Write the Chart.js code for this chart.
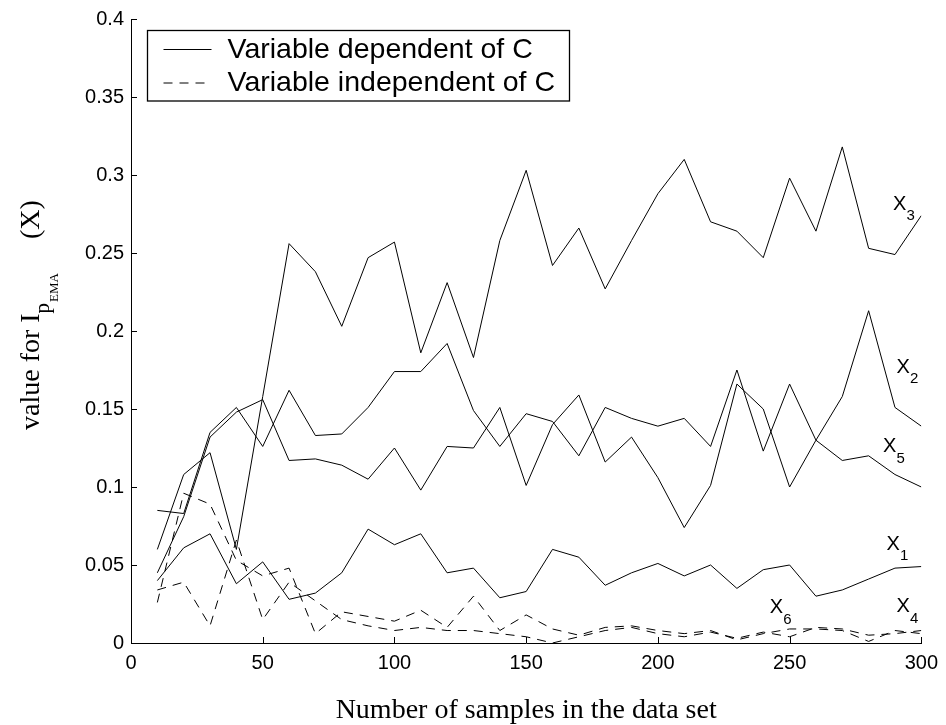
<!DOCTYPE html>
<html>

<head>
    <meta charset="utf-8" />
    <title>I_pEMA values vs number of samples</title>
    <script src="https://cdn.jsdelivr.net/npm/chart.js"></script>
    <style>
        body { margin: 0; background: #fff; }
        #wrap { width: 946px; height: 725px; }
    </style>
</head>

<body>
    <div id="wrap"><canvas id="myChart" width="946" height="725"></canvas></div>

    <script type="text/javascript">

        // number of samples (x values)
        const samples = [10, 20, 30, 40, 50, 60, 70, 80, 90, 100, 110, 120, 130, 140, 150,
            160, 170, 180, 190, 200, 210, 220, 230, 240, 250, 260, 270, 280, 290, 300];

        // variables dependent of C (solid)
        const x1 = [0.040, 0.061, 0.070, 0.038, 0.052, 0.028, 0.032, 0.045, 0.073, 0.063, 0.070, 0.045, 0.048, 0.029, 0.033,
            0.060, 0.055, 0.037, 0.045, 0.051, 0.043, 0.050, 0.035, 0.047, 0.050, 0.030, 0.034, 0.041, 0.048, 0.049];
        const x2 = [0.045, 0.081, 0.132, 0.148, 0.156, 0.117, 0.118, 0.114, 0.105, 0.125, 0.098, 0.126, 0.125, 0.151, 0.101,
            0.140, 0.159, 0.116, 0.132, 0.106, 0.074, 0.101, 0.166, 0.150, 0.100, 0.130, 0.158, 0.213, 0.151, 0.139];
        const x3 = [0.060, 0.108, 0.122, 0.060, 0.158, 0.256, 0.238, 0.203, 0.247, 0.257, 0.186, 0.231, 0.183, 0.258, 0.303,
            0.242, 0.266, 0.227, 0.258, 0.288, 0.310, 0.270, 0.264, 0.247, 0.298, 0.264, 0.318, 0.253, 0.249, 0.274];
        const x5 = [0.085, 0.083, 0.135, 0.151, 0.126, 0.162, 0.133, 0.134, 0.151, 0.174, 0.174, 0.192, 0.149, 0.126, 0.147,
            0.142, 0.120, 0.151, 0.144, 0.139, 0.144, 0.126, 0.175, 0.123, 0.166, 0.130, 0.117, 0.120, 0.108, 0.100];

        // variables independent of C (dashed)
        const x4 = [0.034, 0.039, 0.011, 0.066, 0.015, 0.039, 0.027, 0.015, 0.011, 0.008, 0.010, 0.008, 0.008, 0.006, 0.004,
            0.000, 0.004, 0.008, 0.010, 0.006, 0.004, 0.007, 0.003, 0.007, 0.004, 0.010, 0.009, 0.005, 0.006, 0.008];
        const x6 = [0.026, 0.096, 0.089, 0.053, 0.043, 0.048, 0.006, 0.020, 0.017, 0.014, 0.021, 0.010, 0.030, 0.008, 0.018,
            0.009, 0.005, 0.010, 0.011, 0.008, 0.006, 0.008, 0.002, 0.006, 0.009, 0.009, 0.008, 0.001, 0.008, 0.006];

        const xTicks = [0, 50, 100, 150, 200, 250, 300];
        const yTicks = [0, 0.05, 0.1, 0.15, 0.2, 0.25, 0.3, 0.35, 0.4];

        const legendLabels = ["Variable dependent of C", "Variable independent of C"];

        // curve names and where they sit (data units)
        const curveNames = ["1", "2", "3", "4", "5", "6"];
        const nameAtX = [289.3, 293.1, 291.8, 293.1, 288.0, 245.0];
        const nameAtY = [0.0633, 0.1769, 0.2814, 0.0232, 0.1258, 0.0226];

        const dash = [9, 7];
        const series = [x1, x2, x3, x4, x5, x6];
        const dashed = [false, false, false, true, false, true];

        const datasets = series.map((vals, i) => ({
            label: "X" + curveNames[i],
            data: samples.map((s, j) => ({ x: s, y: vals[j] })),
            borderColor: "#000",
            borderWidth: 1,
            borderDash: dashed[i] ? dash : [],
            pointRadius: 0,
            tension: 0,
            fill: false
        }));

        //inward tick marks, like the original figure
        const innerTicks = {
            id: "innerTicks",
            afterDraw(chart) {
                const { ctx, scales: { x, y } } = chart;
                ctx.save();
                ctx.strokeStyle = "#000";
                ctx.lineWidth = 1;
                ctx.beginPath();
                xTicks.forEach(v => {
                    const px = Math.round(x.getPixelForValue(v)) + 0.5;
                    ctx.moveTo(px, y.bottom);
                    ctx.lineTo(px, y.bottom - 6);
                });
                yTicks.forEach(v => {
                    const py = Math.round(y.getPixelForValue(v)) + 0.5;
                    ctx.moveTo(x.left, py);
                    ctx.lineTo(x.left + 6, py);
                });
                ctx.stroke();
                ctx.restore();
            }
        };

        // X_n names next to the curves
        const curveLabels = {
            id: "curveLabels",
            afterDatasetsDraw(chart) {
                const { ctx, scales: { x, y } } = chart;
                ctx.save();
                ctx.fillStyle = "#000";
                curveNames.forEach((n, i) => {
                    const px = x.getPixelForValue(nameAtX[i]);
                    const py = y.getPixelForValue(nameAtY[i]);
                    ctx.font = "20px 'Liberation Sans', Arial, sans-serif";
                    ctx.textAlign = "center";
                    ctx.textBaseline = "middle";
                    ctx.fillText("X", px, py);
                    ctx.font = "15px 'Liberation Sans', Arial, sans-serif";
                    ctx.fillText(n, px + 11, py + 12);
                });
                ctx.restore();
            }
        };

        // legend box in the upper left corner
        const boxLegend = {
            id: "boxLegend",
            afterDraw(chart) {
                const ctx = chart.ctx;
                const left = chart.chartArea.left + 16.5, top = chart.chartArea.top + 11.5;
                const w = 422, h = 70.5;
                ctx.save();
                ctx.fillStyle = "#fff";
                ctx.fillRect(left, top, w, h);
                ctx.strokeStyle = "#000";
                ctx.lineWidth = 1.3;
                ctx.strokeRect(left, top, w, h);
                ctx.font = "28.5px 'Liberation Sans', Arial, sans-serif";
                ctx.textBaseline = "middle";
                ctx.fillStyle = "#000";
                legendLabels.forEach((txt, i) => {
                    const ly = top + 18.5 + i * 33.5;
                    ctx.lineWidth = 1;
                    ctx.setLineDash(i === 0 ? [] : dash);
                    ctx.beginPath();
                    ctx.moveTo(left + 16, ly + 0.5);
                    ctx.lineTo(left + 64, ly + 0.5);
                    ctx.stroke();
                    ctx.setLineDash([]);
                    ctx.fillText(txt, left + 80, ly + 1);
                });
                ctx.restore();
            }
        };

        // y axis title with nested subscripts
        const yTitle = {
            id: "yTitle",
            afterDraw(chart) {
                const ctx = chart.ctx;
                const parts = [
                    { t: "value for I", size: 28, dy: 0, after: 0 },
                    { t: "p", size: 21, dy: 10, after: 1 },
                    { t: "EMA", size: 13, dy: 19, after: 34 },
                    { t: "(X)", size: 28, dy: 0, after: 0 }
                ];
                ctx.save();
                ctx.translate(39, 430);
                ctx.rotate(-Math.PI / 2);
                ctx.fillStyle = "#000";
                ctx.textAlign = "left";
                ctx.textBaseline = "alphabetic";
                let pos = 0;
                parts.forEach(p => {
                    ctx.font = p.size + "px 'Liberation Serif', 'Times New Roman', serif";
                    ctx.fillText(p.t, pos, p.dy);
                    pos += ctx.measureText(p.t).width + p.after;
                });
                ctx.restore();
            }
        };

        const ctx = document.getElementById("myChart");
        const myChart = new Chart(ctx, {
            type: "line",
            data: { datasets: datasets },
            options: {
                responsive: false,
                animation: false,
                events: [],
                layout: { padding: { top: 17, right: 22, left: 0, bottom: 0 } },
                plugins: {
                    legend: { display: false },
                    tooltip: { enabled: false }
                },
                scales: {
                    x: {
                        type: "linear",
                        min: 0,
                        max: 300,
                        afterFit: s => { s.height = 82; },
                        afterBuildTicks: s => { s.ticks = xTicks.map(v => ({ value: v })); },
                        grid: { display: false, drawTicks: false },
                        border: { display: true, color: "#000", width: 1 },
                        ticks: {
                            color: "#000",
                            padding: 8,
                            maxRotation: 0,
                            font: { family: "'Liberation Sans', Arial, sans-serif", size: 20 }
                        },
                        title: {
                            display: true,
                            text: "Number of samples in the data set",
                            color: "#000",
                            padding: 0,
                            font: { family: "'Liberation Serif', 'Times New Roman', serif", size: 28, lineHeight: 1 }
                        }
                    },
                    y: {
                        min: 0,
                        max: 0.4,
                        afterFit: s => { s.width = 131; },
                        afterBuildTicks: s => { s.ticks = yTicks.map(v => ({ value: v })); },
                        grid: { display: false, drawTicks: false },
                        border: { display: true, color: "#000", width: 1 },
                        ticks: {
                            color: "#000",
                            padding: 7,
                            font: { family: "'Liberation Sans', Arial, sans-serif", size: 20 },
                            callback: v => String(Number(v.toFixed(2)))
                        }
                    }
                }
            },
            plugins: [innerTicks, curveLabels, boxLegend, yTitle]
        });

    </script>

</body>

</html>
